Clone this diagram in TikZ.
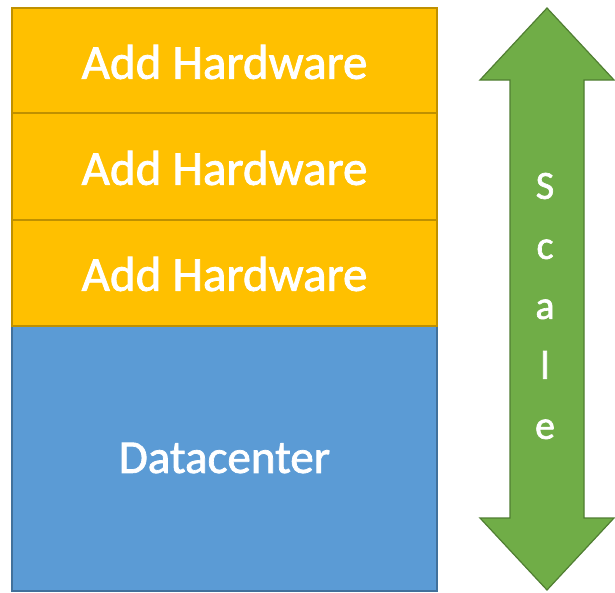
\documentclass[tikz,border=0pt]{standalone}
\usepackage{fontspec}
\setmainfont{Carlito}
\newfontfamily\heavyfont[FakeBold=1.6]{Carlito}
\definecolor{hwfill}{HTML}{FFC000}
\definecolor{hwdraw}{HTML}{BF9000}
\definecolor{dcfill}{HTML}{5B9BD5}
\definecolor{dcdraw}{HTML}{41719C}
\definecolor{arfill}{HTML}{70AD47}
\definecolor{ardraw}{HTML}{507E32}
\tikzset{
  hwbox/.style={fill=hwfill,draw=hwdraw,line width=1.2pt},
  dcbox/.style={fill=dcfill,draw=dcdraw,line width=1.2pt},
  lbl/.style={text=white,font=\heavyfont\fontsize{49}{49}\selectfont},
  dclbl/.style={text=white,font=\heavyfont\fontsize{47}{47}\selectfont},
  scalearrow/.style={fill=arfill,draw=ardraw,line width=1.2pt,line join=miter},
  scalelbl/.style={text=white,align=center,font=\heavyfont\fontsize{40}{60}\selectfont}
}
\begin{document}
\begin{tikzpicture}[x=1pt,y=-1pt]
\useasboundingbox (0,0) rectangle (615,592);
\draw[dcbox] (12,326) rectangle (437,591);
\draw[hwbox] (12,220) rectangle (437,326);
\draw[hwbox] (12,113) rectangle (437,220);
\draw[hwbox] (12,8) rectangle (437,113);
\node[lbl] (hw1) at (224.5,62) {Add Hardware};
\node[lbl] (hw2) at (224.5,168) {Add Hardware};
\node[lbl] (hw3) at (224.5,274) {Add Hardware};
\node[dclbl] (dc) at (224.5,458) {Datacenter};
\draw[scalearrow] (547,8) -- (614,80) -- (584,80) -- (584,518) -- (614,518) -- (547,590) -- (480,518) -- (510,518) -- (510,80) -- (480,80) -- cycle;
\node[scalelbl] (sc) at (545,306) {S\\c\\a\\l\\e};
\end{tikzpicture}
\end{document}
